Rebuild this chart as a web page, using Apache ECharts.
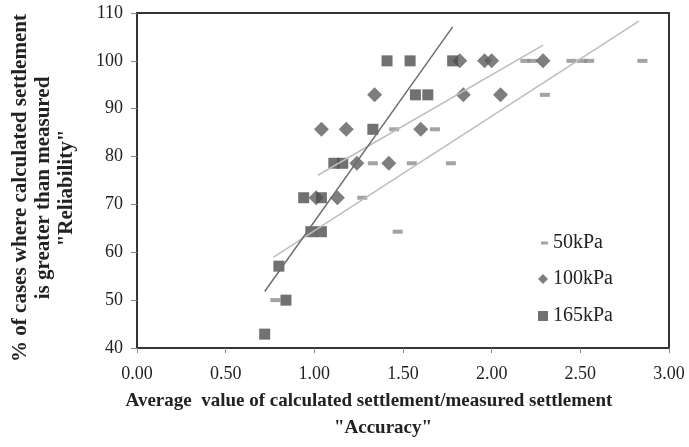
<!DOCTYPE html>
<html><head><meta charset="utf-8">
<script src="https://cdn.jsdelivr.net/npm/echarts@6/dist/echarts.min.js"></script>
<style>html,body{margin:0;padding:0;background:#fff}#c{width:689px;height:447px}</style>
</head><body><div id="c"></div>
<script>
// Series values (x = accuracy, y = reliability %)
const x50  = [2.19, 2.23, 2.45, 2.51, 2.55, 2.85, 2.30, 1.45, 1.68, 1.33, 1.55, 1.77, 1.27, 1.47, 0.78];
const y50  = [100, 100, 100, 100, 100, 100, 92.9, 85.7, 85.7, 78.6, 78.6, 78.6, 71.4, 64.3, 50];
const x100 = [1.82, 1.96, 2.00, 2.29, 1.34, 1.84, 2.05, 1.04, 1.18, 1.60, 1.24, 1.42, 1.01, 1.13];
const y100 = [100, 100, 100, 100, 92.9, 92.9, 92.9, 85.7, 85.7, 85.7, 78.6, 78.6, 71.4, 71.4];
const x165 = [1.41, 1.54, 1.78, 1.57, 1.64, 1.33, 1.11, 1.16, 0.94, 1.04, 0.98, 1.04, 0.80, 0.84, 0.72];
const y165 = [100, 100, 100, 92.9, 92.9, 85.7, 78.6, 78.6, 71.4, 71.4, 64.3, 64.3, 57.1, 50, 42.9];
// Trendline endpoints
const trend50x  = [0.77, 2.83], trend50y  = [59.0, 108.3];
const trend100x = [1.02, 2.29], trend100y = [76.1, 103.3];
const trend165x = [0.72, 1.78], trend165y = [51.8, 107.1];
const seriesNames = ['50kPa', '100kPa', '165kPa'];
const xTicks = {min: 0, max: 3, interval: 0.5};
const yTicks = {min: 40, max: 110, interval: 10};

const zip = (a, b) => a.map((v, i) => [v, b[i]]);
const F = 'Liberation Serif';

const chart = echarts.init(document.getElementById('c'));
function leg(name, icon, w, h, left, top) {
  return {
    data: [{name: name, icon: icon}], left: left, top: top, orient: 'vertical',
    itemWidth: w, itemHeight: h, padding: 0, itemGap: 0,
    textStyle: {fontFamily: F, fontSize: 20, color: '#222'},
    selectedMode: false
  };
}
chart.setOption({
  animation: false,
  grid: {left: 137, right: 20, top: 13, bottom: 99, show: true, borderColor: '#333', borderWidth: 2},
  xAxis: {
    type: 'value', min: xTicks.min, max: xTicks.max, interval: xTicks.interval,
    axisLine: {show: true, onZero: false, lineStyle: {color: '#333', width: 2}},
    axisTick: {show: true, length: 5, lineStyle: {color: '#888'}},
    axisLabel: {margin: 17, fontFamily: F, fontSize: 18, color: '#222', formatter: v => v.toFixed(2)},
    splitLine: {show: false}
  },
  yAxis: {
    type: 'value', min: yTicks.min, max: yTicks.max, interval: yTicks.interval,
    axisLine: {show: true, onZero: false, lineStyle: {color: '#333', width: 2}},
    axisTick: {show: true, length: 6, lineStyle: {color: '#888'}},
    axisLabel: {margin: 14, fontFamily: F, fontSize: 18, color: '#222'},
    splitLine: {show: false}
  },
  legend: [
    leg(seriesNames[0], 'rect', 7, 3, 541, 233),
    leg(seriesNames[1], 'diamond', 10, 10, 538, 269),
    leg(seriesNames[2], 'rect', 10, 10, 538, 306)
  ],
  graphic: [
    {type: 'text', x: 44, y: 188, rotation: Math.PI / 2,
     style: {text: '% of cases where calculated settlement\nis greater than measured\n"Reliability"',
       font: 'bold 21px "Liberation Serif"', fill: '#222', align: 'center', verticalAlign: 'middle', lineHeight: 23}},
    {type: 'text', x: 369, y: 401,
     style: {text: 'Average  value of calculated settlement/measured settlement',
       font: 'bold 19px "Liberation Serif"', fill: '#222', align: 'center', verticalAlign: 'middle'}},
    {type: 'text', x: 383, y: 428,
     style: {text: '"Accuracy"', font: 'bold 19px "Liberation Serif"', fill: '#222', align: 'center', verticalAlign: 'middle'}}
  ],
  series: [
    {name: seriesNames[0], type: 'scatter', symbol: 'rect', symbolSize: [10, 4], z: 3,
     itemStyle: {color: '#8c8c8c'}, data: zip(x50, y50)},
    {name: seriesNames[1], type: 'scatter', symbol: 'diamond', symbolSize: 15, z: 4,
     itemStyle: {color: '#5e5e5e'}, data: zip(x100, y100)},
    {name: seriesNames[2], type: 'scatter', symbol: 'rect', symbolSize: 11, z: 5,
     itemStyle: {color: '#4e4e4e'}, data: zip(x165, y165)},
    {type: 'line', symbol: 'none', z: 6, lineStyle: {color: '#bdbdbd', width: 1.5}, data: zip(trend50x, trend50y)},
    {type: 'line', symbol: 'none', z: 6, lineStyle: {color: '#bdbdbd', width: 1.5}, data: zip(trend100x, trend100y)},
    {type: 'line', symbol: 'none', z: 6, lineStyle: {color: '#6e6e6e', width: 1.5}, data: zip(trend165x, trend165y)}
  ]
});
</script>
</body></html>
